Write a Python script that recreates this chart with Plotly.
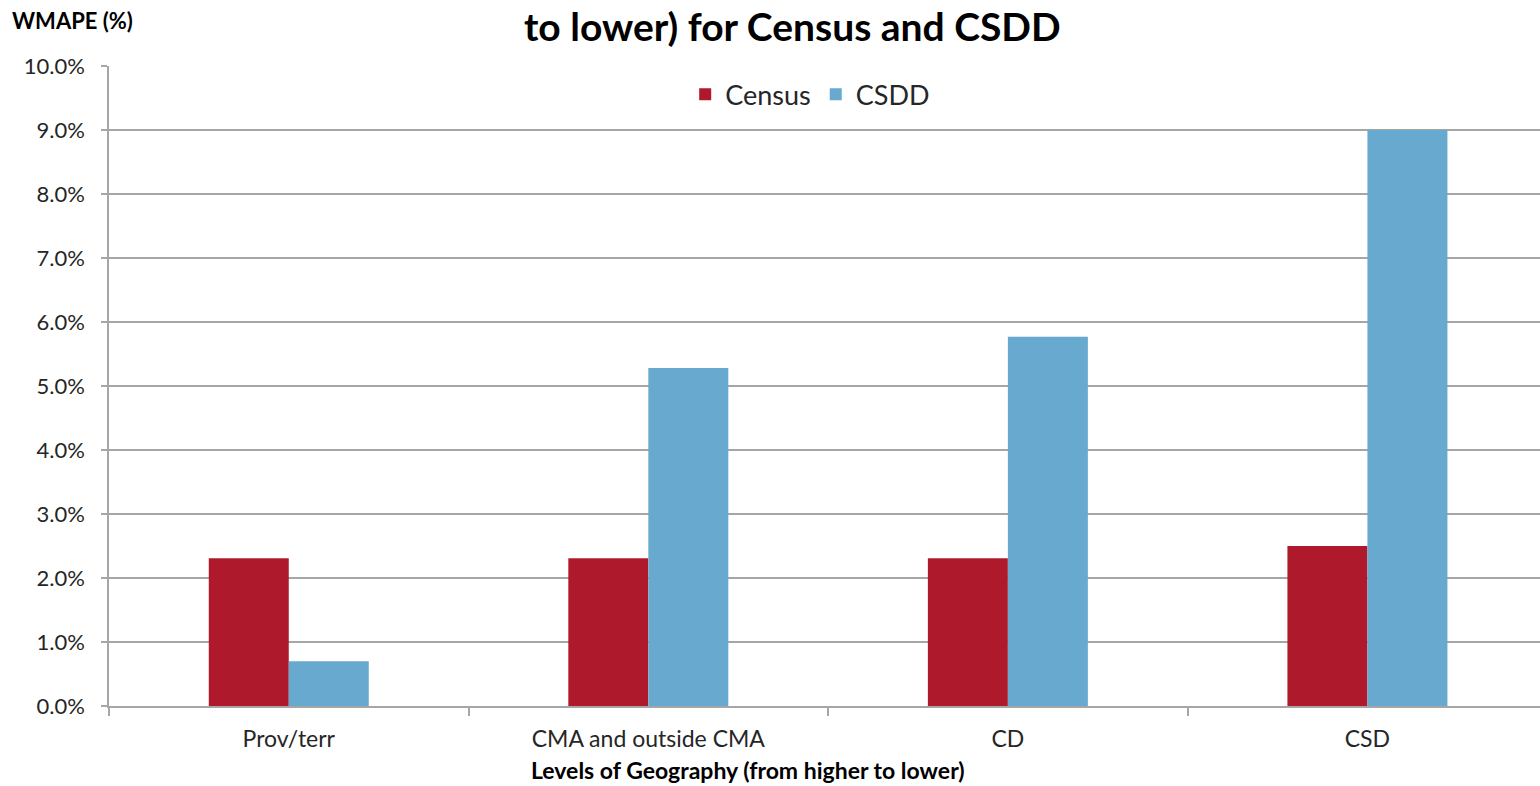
import plotly.graph_objects as go

# Levels of geography, from higher to lower
levels = ["Prov/terr", "CMA and outside CMA", "CD", "CSD"]

# WMAPE values in percent
census_wmape = [2.31, 2.31, 2.31, 2.5]
csdd_wmape = [0.7, 5.28, 5.77, 9.0]

y_ticks = [0, 1, 2, 3, 4, 5, 6, 7, 8, 9, 10]
y_tick_labels = [f"{v:.1f}%" for v in y_ticks]

FONT = "Lato, 'Open Sans', sans-serif"
GRID = "#a6a6a6"
TXT = "#262626"

fig = go.Figure()
fig.add_trace(go.Bar(name="Census", x=levels, y=census_wmape,
                     marker=dict(color="#ae1a2c", line=dict(width=0))))
fig.add_trace(go.Bar(name="CSDD", x=levels, y=csdd_wmape,
                     marker=dict(color="#68a9cf", line=dict(width=0))))

fig.update_layout(
    width=1540, height=786,
    margin=dict(l=109, r=0, t=66, b=80),
    paper_bgcolor="white", plot_bgcolor="white",
    barmode="group", bargap=0.555, bargroupgap=0,
    font=dict(family=FONT, color=TXT, size=20),
    showlegend=True,
    legend=dict(orientation="h", x=0.49, xanchor="center", y=0.955, yanchor="middle",
                font=dict(size=27, color=TXT), itemwidth=30,
                bgcolor="rgba(0,0,0,0)", traceorder="normal"),
    xaxis=dict(
        range=[-0.5, 3.48],
        showline=True, linecolor=GRID, linewidth=1.5,
        ticks="outside", tickson="boundaries", ticklen=8, tickcolor=GRID, tickwidth=1.5,
        tickfont=dict(size=23, color=TXT),
        ticklabelstandoff=12,
        showgrid=False,
    ),
    yaxis=dict(
        range=[0, 10], tickvals=y_ticks, ticktext=y_tick_labels,
        showline=True, linecolor=GRID, linewidth=1.5,
        ticks="outside", ticklen=6, tickcolor=GRID, tickwidth=1.5,
        showgrid=True, gridcolor=GRID, gridwidth=1.5,
        zeroline=False,
        tickfont=dict(size=22, color=TXT),
        ticklabelstandoff=12,
    ),
    annotations=[
        dict(text="<b>to lower) for Census and CSDD</b>", xref="paper", yref="paper",
             x=(792 - 109) / 1431, y=1, yshift=66 - 26, xanchor="center", yanchor="middle",
             showarrow=False, font=dict(size=39, color="#000000", family=FONT)),
        dict(text="<b>WMAPE (%)</b>", xref="paper", yref="paper",
             x=-109 / 1431 + 10 / 1431, y=1, yshift=66 - 20, xanchor="left", yanchor="middle",
             showarrow=False, font=dict(size=22, color="#000000", family=FONT)),
        dict(text="<b>Levels of Geography (from higher to lower)</b>", xref="paper", yref="paper",
             x=(748 - 109) / 1431, y=0, yshift=-(770 - 706), xanchor="center", yanchor="middle",
             showarrow=False, font=dict(size=23, color="#000000", family=FONT)),
    ],
)

fig.write_html("out.html")
